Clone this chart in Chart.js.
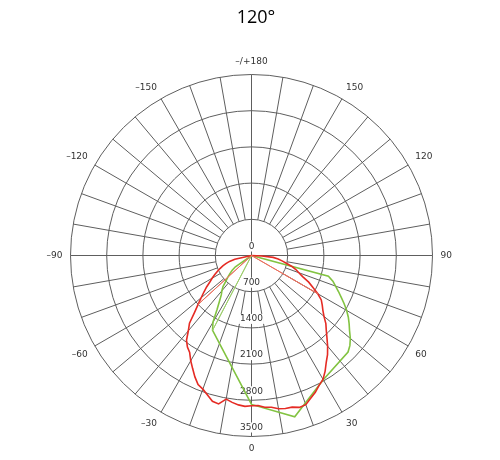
<!DOCTYPE html>
<html>
<head>
<meta charset="utf-8">
<script src="https://cdn.jsdelivr.net/npm/chart.js@4/dist/chart.umd.min.js"></script>
<style>
  html, body { margin: 0; padding: 0; background: #ffffff; }
  #wrap { width: 500px; height: 460px; position: relative; }
</style>
</head>
<body>
<div id="wrap"><canvas id="polar"></canvas></div>
<script>
// Beam title
const chartTitle = '120°';

// Radial rings (cd) and the text printed on the vertical axis
const ringValues = [0, 700, 1400, 2100, 2800, 3500];
const ringLabels = ['0', '700', '1400', '2100', '2800', '3500'];

// Gamma marks printed round the outside
const angleMarks = [180, 150, 120, 90, 60, 30, 0, -30, -60, -90, -120, -150];
const angleMarkText = ['–/+180', '150', '120', '90', '60', '30', '0', '–30', '–60', '–90', '–120', '–150'];

// Gamma categories, 2.5° apart, clockwise from the top of the diagram
const gammaStep = 2.5;
const gammaCategories = Array.from({ length: 360 / gammaStep }, (_, i) => 180 - i * gammaStep);

// C0 - C180 plane (red), intensity in cd
const redGamma = [-80, -77.5, -75, -72.5, -70, -67.5, -65, -62.5, -60, -57.5, -55, -52.5, -50, -47.5,
  -45, -42.5, -40, -37.5, -35, -32.5, -30, -27.5, -25, -22.5, -20, -17.5, -15, -12.5, -10, -7.5, -5, -2.5,
  0, 2.5, 5, 7.5, 10, 12.5, 15, 17.5, 20, 22.5, 25, 27.5, 30, 32.5, 35, 37.5, 40, 42.5, 45, 47.5,
  50, 52.5, 55, 57.5, 60, 62.5, 65, 67.5, 70, 72.5, 75, 77.5, 80, 82.5, 85, 87.5, 90];
const redCd = [0, 330, 440, 520, 590, 660, 730, 800, 880, 955, 1060, 1160, 1270, 1400,
  1560, 1775, 1900, 2065, 2160, 2225, 2350, 2465, 2590, 2700, 2750, 2830, 2920, 2940, 2820, 2865, 2900, 2920,
  2905, 2905, 2945, 2960, 3010, 3030, 3035, 3080, 3070, 2990, 2920, 2830, 2765, 2650, 2520, 2415, 2290, 2160, 2045, 1950,
  1830, 1740, 1670, 1600, 1480, 1340, 1220, 1070, 975, 900, 800, 690, 600, 520, 420, 200, 0];

// C90 - C270 plane (green), intensity in cd
const greenGamma = [-57.5, -55, -52.5, -50, -47.5, -45, -42.5, -40, -37.5, -35, -32.5, -30, -27.5,
  0, 15, 30, 45, 47.5, 50, 52.5, 55, 57.5, 60, 62.5, 65, 67.5, 70, 72.5, 75, 77.5];
const greenCd = [0, 380, 470, 545, 620, 700, 815, 890, 960, 1080, 1240, 1490, 1630,
  2880, 3230, 2775, 2640, 2580, 2495, 2390, 2305, 2220, 2125, 2020, 1915, 1820, 1730, 1650, 1540, 0];

// Edge rays from the centre to the curves
const redEdgeLeftGamma = [-50, -47.5];
const redEdgeLeftCd = [0, 1400];
const redEdgeRightGamma = [62.5, 60];
const redEdgeRightCd = [0, 1480];
const greenEdgeLeftGamma = [-25, -27.5];
const greenEdgeLeftCd = [0, 1630];

const gridColor = '#5e5e5e';
const textColor = '#333333';
const labelFont = '9px "DejaVu Sans", sans-serif';

function gammaIndex(g) {
  const n = gammaCategories.length;
  return ((Math.round((180 - g) / gammaStep) % n) + n) % n;
}

function onRing(gammas, values) {
  const row = new Array(gammaCategories.length).fill(null);
  gammas.forEach((g, k) => { row[gammaIndex(g)] = values[k]; });
  return row;
}

// Spokes every 10° from the first ring outwards, ring values and gamma marks
const polarDecor = {
  id: 'polarDecor',
  beforeDatasetsDraw(chart) {
    const s = chart.scales.r;
    const ctx = chart.ctx;
    const inner = s.getDistanceFromCenterForValue(ringValues[1]);
    const outer = s.getDistanceFromCenterForValue(ringValues[ringValues.length - 1]);
    ctx.save();
    ctx.strokeStyle = gridColor;
    ctx.lineWidth = 1;
    gammaCategories.forEach((g, i) => {
      if (g % 10 !== 0 || g % 90 === 0) return;
      const a = s.getPointPosition(i, inner);
      const b = s.getPointPosition(i, outer);
      ctx.beginPath();
      ctx.moveTo(a.x, a.y);
      ctx.lineTo(b.x, b.y);
      ctx.stroke();
    });

    ctx.font = labelFont;
    ctx.textAlign = 'center';
    ctx.textBaseline = 'middle';
    ringValues.forEach((v, k) => {
      const p = s.getPointPosition(gammaIndex(0), s.getDistanceFromCenterForValue(v));
      const y = p.y - 9;
      const w = ctx.measureText(ringLabels[k]).width + 2;
      ctx.fillStyle = '#ffffff';
      ctx.fillRect(p.x - w / 2, y - 5, w, 10);
      ctx.fillStyle = textColor;
      ctx.fillText(ringLabels[k], p.x, y);
    });
    ctx.restore();
  },
  afterDraw(chart) {
    const s = chart.scales.r;
    const ctx = chart.ctx;
    ctx.save();
    ctx.font = labelFont;
    ctx.fillStyle = textColor;
    angleMarks.forEach((g, k) => {
      const theta = ((180 - g) % 360 + 360) % 360;
      const p = s.getPointPosition(gammaIndex(g), s.drawingArea + 8);
      ctx.textAlign = (theta === 0 || theta === 180) ? 'center' : (theta < 180 ? 'left' : 'right');
      ctx.textBaseline = (theta === 90 || theta === 270) ? 'middle' : ((theta < 90 || theta > 270) ? 'bottom' : 'top');
      ctx.fillText(angleMarkText[k], p.x, p.y);
    });
    ctx.restore();
  }
};

new Chart(document.getElementById('polar'), {
  type: 'radar',
  data: {
    labels: gammaCategories.map(String),
    datasets: [
      { label: 'C0-C180 edge', data: onRing(redEdgeLeftGamma, redEdgeLeftCd), borderColor: '#e8705e', borderWidth: 1 },
      { label: 'C0-C180 edge ', data: onRing(redEdgeRightGamma, redEdgeRightCd), borderColor: '#e8705e', borderWidth: 1 },
      { label: 'C90-C270 edge', data: onRing(greenEdgeLeftGamma, greenEdgeLeftCd), borderColor: '#9ccd6c', borderWidth: 1 },
      { label: 'C0-C180', data: onRing(redGamma, redCd), borderColor: '#e52b24', borderWidth: 1.6 },
      { label: 'C90-C270', data: onRing(greenGamma, greenCd), borderColor: '#82c341', borderWidth: 1.6 }
    ]
  },
  options: {
    responsive: true,
    maintainAspectRatio: false,
    animation: false,
    layout: { padding: { left: 12 } },
    elements: {
      point: { radius: 0, hoverRadius: 0 },
      line: { tension: 0, fill: false }
    },
    datasets: { radar: { spanGaps: true } },
    plugins: {
      legend: { display: false },
      tooltip: { enabled: false },
      title: {
        display: true,
        text: chartTitle,
        color: '#000000',
        font: { family: '"Open Sans", sans-serif', size: 18, weight: 'normal' },
        padding: { top: 7, bottom: 6 }
      }
    },
    scales: {
      r: {
        min: 0,
        max: 3500,
        startAngle: 0,
        ticks: { stepSize: 700, display: false },
        pointLabels: { display: false },
        grid: { circular: true, color: gridColor, lineWidth: 1 },
        angleLines: {
          display: true,
          color: gridColor,
          lineWidth: (c) => (gammaCategories[c.index] % 90 === 0 ? 1 : 0)
        },
        afterFit: (scale) => {
          scale.xCenter = 251.5;
          scale.yCenter = 255.5;
          scale.drawingArea = 181;
        }
      }
    }
  },
  plugins: [polarDecor]
});
</script>
</body>
</html>
